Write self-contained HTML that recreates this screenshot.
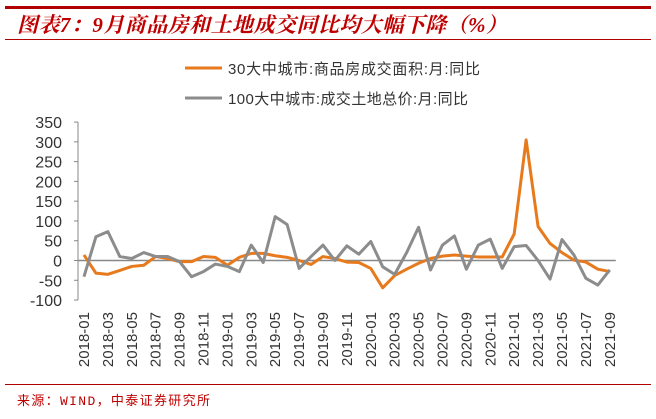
<!DOCTYPE html>
<html><head><meta charset="utf-8"><style>
body{margin:0;background:#fff;width:656px;height:414px;overflow:hidden;font-family:"Liberation Sans","Noto Sans CJK SC",sans-serif}
</style></head><body>
<svg width="656" height="414" xmlns="http://www.w3.org/2000/svg">
<rect x="5" y="6" width="646" height="3" fill="#b00000"/>
<text x="17" y="32" font-size="21" font-weight="bold" font-style="italic" fill="#c00000" textLength="490" lengthAdjust="spacing" font-family="Liberation Serif, Noto Serif CJK SC, serif">图表7：9月商品房和土地成交同比均大幅下降（%）</text>
<rect x="5" y="39" width="646" height="1" fill="#b00000"/>
<line x1="185" y1="68" x2="222" y2="68" stroke="#e87a1e" stroke-width="3"/>
<text x="228" y="74" font-size="15" fill="#333" textLength="252" lengthAdjust="spacing">30大中城市:商品房成交面积:月:同比</text>
<line x1="185" y1="98" x2="222" y2="98" stroke="#8c8c8c" stroke-width="3"/>
<text x="228" y="104" font-size="15" fill="#333" textLength="240" lengthAdjust="spacing">100大中城市:成交土地总价:月:同比</text>
<g id="axes"></g>
<g id="series"></g>
<rect x="5" y="384" width="646" height="1" fill="#b00000"/>
<text x="17" y="405" font-size="13" fill="#c00000" textLength="193" lengthAdjust="spacing" font-family="Liberation Mono, Noto Sans CJK SC, monospace">来源：WIND，中泰证券研究所</text>
</svg>
<script>
const months = [];
for (let y = 2018; y <= 2021; y++) for (let m = 1; m <= 12; m++) { if (y === 2021 && m > 9) break; months.push(y + '-' + String(m).padStart(2, '0')); }
const salesYoY = [14,-32,-35,-25,-15,-12,10,5,-3,-3,10,8,-12,8,18,18,12,8,0,-10,10,5,-4,-5,-20,-69,-38,-22,-7,5,11,14,11,9,9,9,67,305,86,43,20,1,-4,-22,-28];
const landYoY = [-41,60,73,10,5,20,10,10,-3,-41,-28,-9,-15,-28,39,-5,111,91,-20,10,39,0,37,16,48,-16,-35,20,84,-24,39,62,-22,39,54,-20,35,38,0,-47,53,14,-45,-62,-24];
const yTicks = [350,300,250,200,150,100,50,0,-50,-100];
const NS = 'http://www.w3.org/2000/svg';
const X0 = 78, STEP = 11.95, Y0 = 260.5, K = 178/450;
const xs = i => X0 + STEP * (i + 0.5);
const ys = v => Y0 - v * K;
const ax = document.getElementById('axes'), sg = document.getElementById('series');
function mk(tag, attrs, parent) { const e = document.createElementNS(NS, tag); for (const k in attrs) e.setAttribute(k, attrs[k]); parent.appendChild(e); return e; }
const yl = mk('line', {x1: X0, y1: ys(350), x2: X0, y2: ys(-100), stroke: '#888', 'stroke-width': 1}, ax);


yTicks.forEach(t => {
  const tk = mk('line', {x1: X0 - 4, y1: ys(t), x2: X0, y2: ys(t), stroke: '#888'}, ax);
  
  
  const tx = mk('text', {x: 62, y: ys(t) + 6, 'font-size': 16, fill: '#333', 'text-anchor': 'end'}, ax);
  tx.textContent = t;
  
  
});
const xl = mk('line', {x1: X0, y1: Y0, x2: X0 + STEP * months.length, y2: Y0, stroke: '#888', 'stroke-width': 1.5}, ax);


months.forEach((m, i) => {
  if (i % 2 !== 0) return;
  const tx = mk('text', {x: 0, y: 0, 'font-size': 15, fill: '#333', 'text-anchor': 'end', transform: `translate(${xs(i) + 5},312) rotate(-90)`}, ax);
  tx.textContent = m;
  
  
});
function line(data, color, name) {
  const p = mk('polyline', {points: data.map((v, i) => xs(i) + ',' + ys(v)).join(' '), fill: 'none', stroke: color, 'stroke-width': 3, 'stroke-linejoin': 'round'}, sg);
  
  
}
line(salesYoY, '#e87a1e', 'sales-yoy-line');
line(landYoY, '#8c8c8c', 'land-yoy-line');
</script>
</body></html>
